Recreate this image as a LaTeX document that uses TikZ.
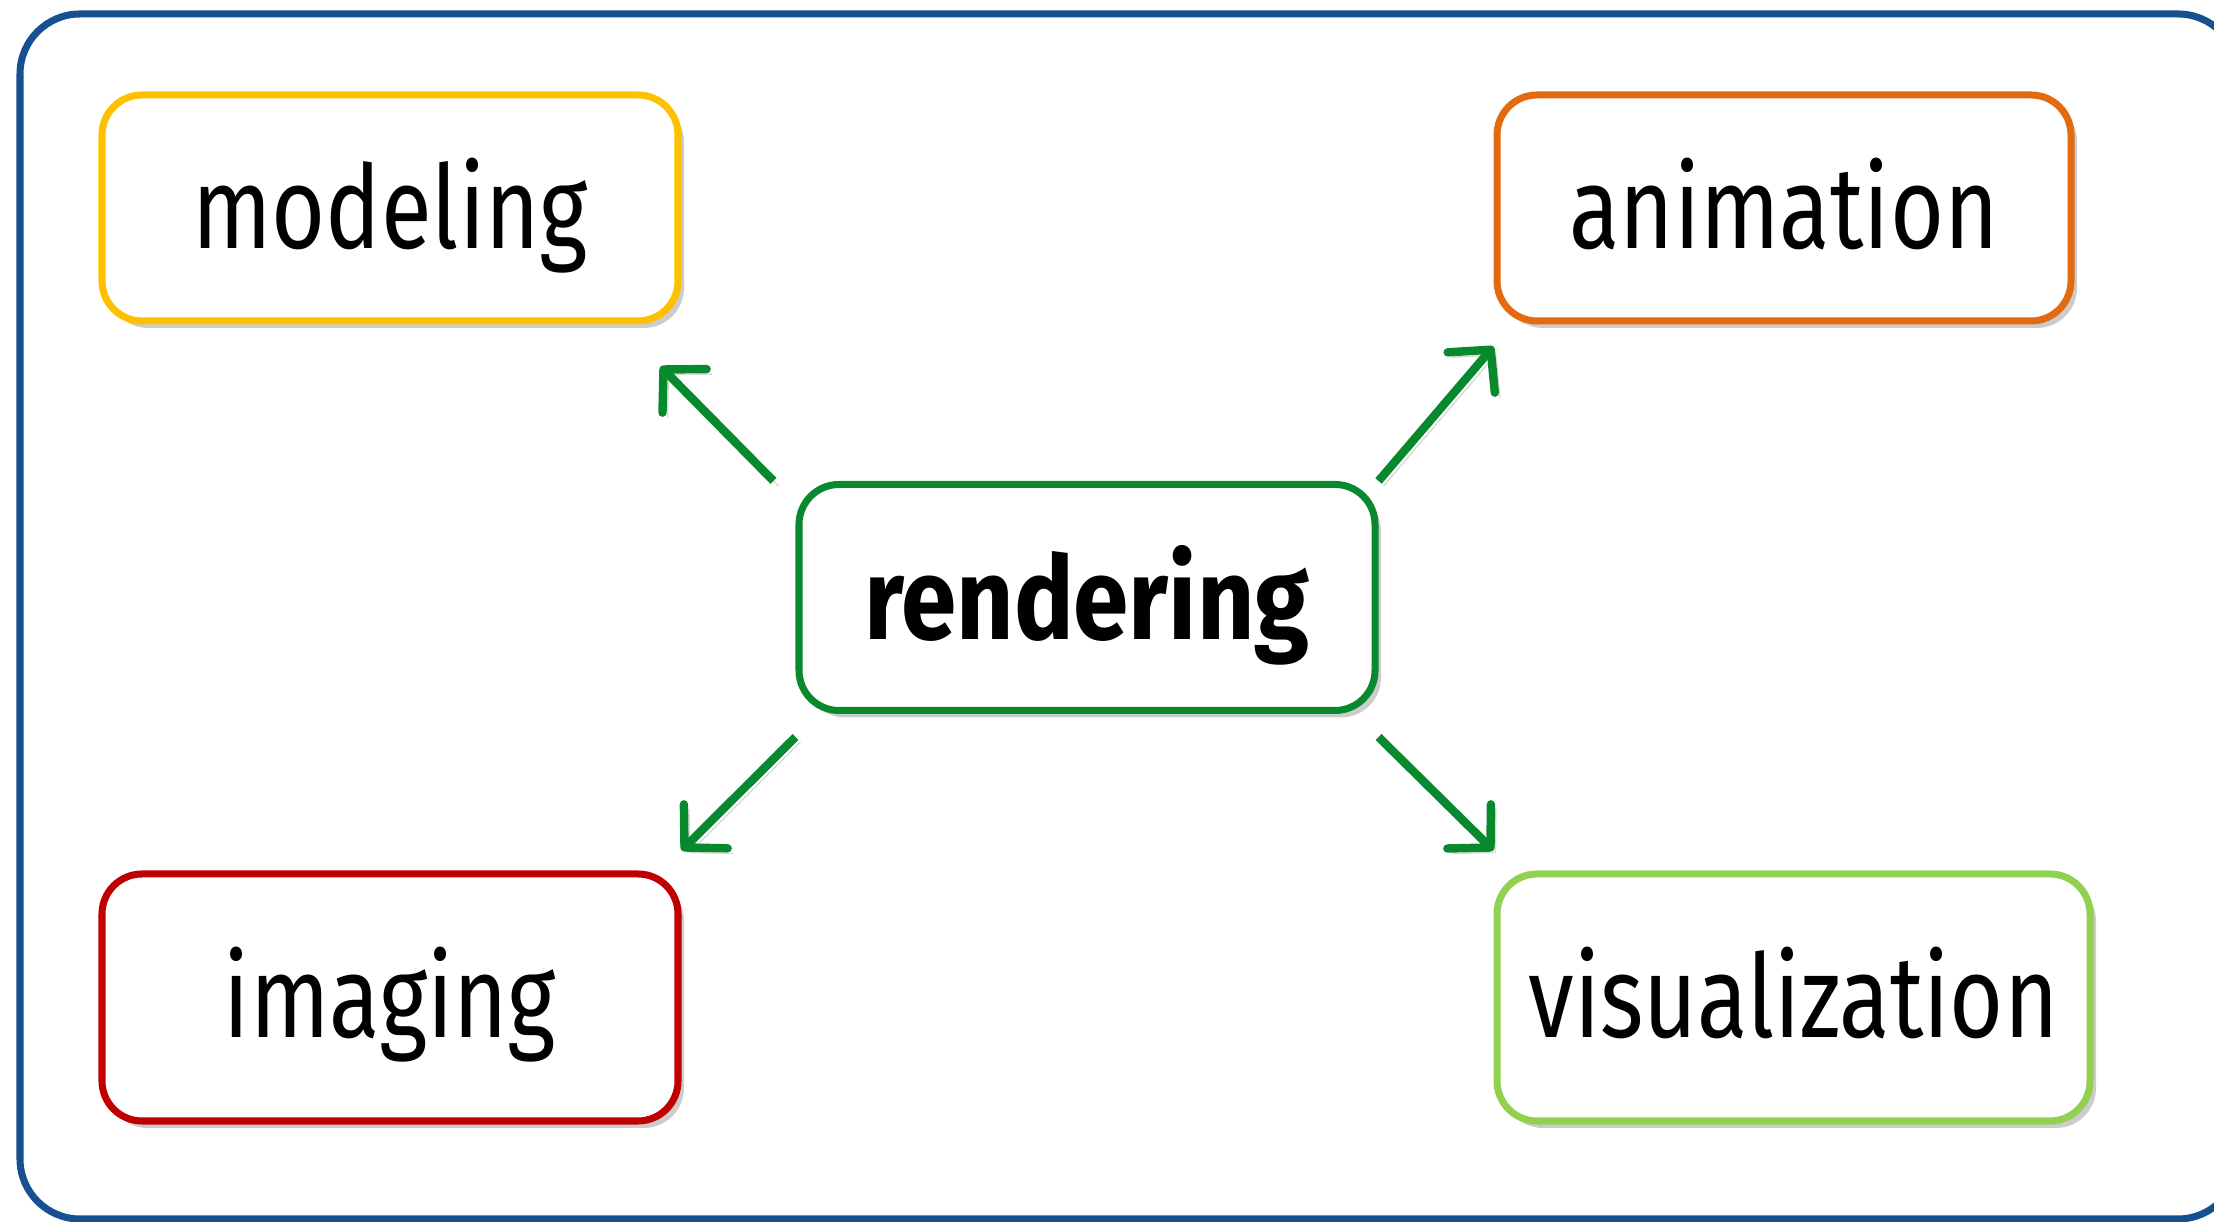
\documentclass[tikz,border=0pt]{standalone}
\usepackage{fontspec}
\setmainfont[FakeStretch=0.8, BoldFeatures={FakeStretch=0.86}]{Fira Sans}
\usetikzlibrary{arrows.meta, shadows, calc}

\definecolor{frameblue}{RGB}{22,80,145}
\definecolor{modelyellow}{RGB}{255,192,0}
\definecolor{animorange}{RGB}{226,107,16}
\definecolor{rendgreen}{RGB}{8,137,46}
\definecolor{imagred}{RGB}{192,0,0}
\definecolor{vislime}{RGB}{146,208,80}

\begin{document}
\begin{tikzpicture}[
    box/.style={draw, line width=2pt, rounded corners=0.4cm, fill=white,
        minimum width=5.76cm, minimum height=2.26cm,
        font=\fontsize{33}{40}\selectfont, text depth=0.1cm,
        drop shadow={shadow xshift=0.06cm, shadow yshift=-0.07cm, opacity=0.2, fill=black}},
    link/.style={draw=rendgreen, line width=2.4pt,
        -{Straight Barb[length=0.3cm, width=0.62cm, round]},
        preaction={draw=black!15, transform canvas={xshift=0.05cm, yshift=-0.05cm}}}
]
    \useasboundingbox (0,0) rectangle (22.14,12.22);

    % Draw frame
    \draw[frameblue, line width=2pt, rounded corners=0.6cm] (0.20,0.03) rectangle (22.38,12.08);

    % Draw boxes
    \node[box, draw=rendgreen] (rend) at (10.87,6.245) {\bfseries rendering};
    \node[box, draw=modelyellow] (model) at (3.90,10.14) {modeling};
    \node[box, draw=animorange, minimum width=5.74cm] (anim) at (17.84,10.14) {animation};
    \node[box, draw=imagred, minimum height=2.47cm] (imag) at (3.90,2.245) {imaging};
    \node[box, draw=vislime, minimum width=5.93cm, minimum height=2.47cm] (visual) at (17.935,2.245) {visualization};

    % Arrow ends
    \coordinate (modeltip) at ($(model.south east)+(-0.21,-0.42)$);
    \coordinate (animtip) at ($(anim.south west)+(0,-0.22)$);
    \coordinate (imagtip) at ($(imag.north east)+(0,0.20)$);
    \coordinate (visualtip) at ($(visual.north west)+(0,0.20)$);

    % Draw arrows
    \draw[link] ($(rend.north west)+(-0.22,0)$) -- (modeltip);
    \draw[link] (rend.north east) -- (animtip);
    \draw[link] ($(rend.south west)+(0,-0.23)$) -- (imagtip);
    \draw[link] ($(rend.south east)+(0,-0.23)$) -- (visualtip);

\end{tikzpicture}
\end{document}
